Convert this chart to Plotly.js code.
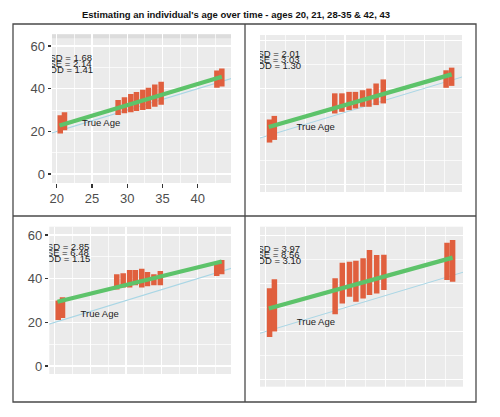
<!DOCTYPE html>
<html>
<head>
<meta charset="utf-8">
<script src="https://cdn.plot.ly/plotly-3.0.1.min.js"></script>
<style>html,body{margin:0;padding:0;background:#fff;}#chart{width:500px;height:417px;}</style>
</head>
<body>
<div id="chart"></div>
<script>
// ---- data ----
const chartTitle = "Estimating an individual's age over time - ages 20, 21, 28-35 & 42, 43";
const colX = [20.5, 21.1, 28.7, 29.6, 30.5, 31.3, 32.2, 33.0, 33.9, 34.8, 42.7, 43.4];

const low1  = [19.0, 20.5, 27.7, 28.5, 29.0, 29.5, 30.0, 30.5, 31.5, 32.5, 40.5, 41.0];
const high1 = [27.5, 29.0, 34.7, 36.0, 37.5, 38.5, 39.5, 40.5, 42.0, 43.3, 48.5, 49.5];
const low2  = [17.4, 18.5, 29.5, 30.2, 30.9, 31.6, 32.3, 32.3, 33.0, 33.7, 40.2, 41.0];
const high2 = [27.0, 28.5, 37.9, 37.9, 38.5, 38.5, 39.2, 39.9, 42.0, 43.7, 47.5, 48.6];
const low3  = [21.1, 22.0, 35.0, 36.0, 36.0, 37.0, 36.0, 36.5, 37.0, 37.0, 41.2, 42.0];
const high3 = [30.0, 31.5, 42.0, 42.5, 44.0, 44.0, 44.5, 43.0, 42.0, 43.5, 47.5, 48.6];
const low4  = [17.7, 20.0, 27.2, 31.7, 34.5, 32.4, 33.8, 35.2, 35.9, 37.3, 41.5, 40.8];
const high4 = [38.0, 41.8, 42.2, 48.7, 49.1, 49.5, 50.5, 54.0, 51.9, 52.0, 57.0, 58.2];

const fitX = [20.4, 43.4];
const fit1 = [22.8, 45.6];
const fit2 = [23.9, 45.8];
const fit3 = [29.4, 47.9];
const fit4 = [29.6, 50.8];

const trueAgeX = [18, 46];

const statNames = ["SD", "SE", "OD"];
const sdVals = [1.68, 2.01, 2.85, 3.97];
const seVals = [2.14, 3.03, 6.48, 8.56];
const odVals = [1.41, 1.30, 1.15, 3.10];

const yTicks = [0, 20, 40, 60];
const yMinor = [10, 30, 50];
const xTicks = [20, 25, 30, 35, 40];
const xMinor = [22.5, 27.5, 32.5, 37.5, 42.5];
const trueAgeLabel = "True Age";

// ---- layout helpers ----
const W = 500, H = 417;
const px = v => v / W;
const py = v => 1 - v / H;

const panels = [
  {low: low1, high: high1, fit: fit1, stats: 0, xd: [52, 231],  yd: [183, 34.3], xr: [19.33, 44.7], yr: [-4.2, 65.5], showY: true,  showX: true},
  {low: low2, high: high2, fit: fit2, stats: 1, xd: [260, 462], yd: [192, 35],   xr: [19.3, 44.7],  yr: [-3.2, 62.2], showY: false, showX: false},
  {low: low3, high: high3, fit: fit3, stats: 2, xd: [49.3, 231],yd: [374, 226.7],xr: [19.25, 44.7], yr: [-3.65, 63.8],showY: true,  showX: false},
  {low: low4, high: high4, fit: fit4, stats: 3, xd: [260, 463], yd: [386.7, 226.7],xr: [19.3, 44.7], yr: [-3.0, 63.7], showY: false, showX: false}
];

const tickFont = {family: "Liberation Sans, Arial, sans-serif", size: 13, color: "#4D4D4D"};
const traces = [];
const layout = {
  width: W, height: H,
  margin: {l: 0, r: 0, t: 0, b: 0},
  paper_bgcolor: "#ffffff",
  plot_bgcolor: "#EBEBEB",
  showlegend: false,
  shapes: [],
  annotations: []
};

panels.forEach((p, i) => {
  const n = i + 1;
  const xa = n === 1 ? "x" : "x" + n;
  const ya = n === 1 ? "y" : "y" + n;
  const xk = n === 1 ? "xaxis" : "xaxis" + n;
  const yk = n === 1 ? "yaxis" : "yaxis" + n;

  layout[xk] = {
    domain: [px(p.xd[0]), px(p.xd[1])],
    range: p.xr, anchor: ya,
    tickmode: "array", tickvals: xTicks,
    showticklabels: p.showX, ticks: p.showX ? "outside" : "",
    ticklen: 3.5, tickwidth: 1.2, tickcolor: "#333",
    tickfont: tickFont,
    showgrid: true, gridcolor: "#ffffff", gridwidth: 1.3,
    minor: {tickmode: "array", tickvals: xMinor, showgrid: true, gridcolor: "#ffffff", gridwidth: 0.7, ticks: ""},
    zeroline: false, showline: false, fixedrange: true
  };
  layout[yk] = {
    domain: [py(p.yd[0]), py(p.yd[1])],
    range: p.yr, anchor: xa,
    tickmode: "array", tickvals: yTicks,
    showticklabels: p.showY, ticks: p.showY ? "outside" : "",
    ticklen: 3.5, tickwidth: 1.2, tickcolor: "#333",
    tickfont: tickFont,
    showgrid: true, gridcolor: "#ffffff", gridwidth: 1.3,
    minor: {tickmode: "array", tickvals: yMinor, showgrid: true, gridcolor: "#ffffff", gridwidth: 0.7, ticks: ""},
    zeroline: false, showline: false, fixedrange: true
  };

  // true-age line (y = x)
  traces.push({
    type: "scatter", mode: "lines", x: trueAgeX, y: trueAgeX,
    xaxis: xa, yaxis: ya, line: {color: "#A9D6E5", width: 1.1},
    hoverinfo: "skip", cliponaxis: true
  });

  // estimate columns
  const cx = [], cy = [];
  colX.forEach((x, k) => {
    cx.push(x, x, null);
    cy.push(p.low[k], p.high[k], null);
  });
  traces.push({
    type: "scatter", mode: "lines", x: cx, y: cy,
    xaxis: xa, yaxis: ya, line: {color: "#E05F3E", width: 5.5},
    hoverinfo: "skip", connectgaps: false
  });

  // fitted line
  traces.push({
    type: "scatter", mode: "lines", x: fitX, y: p.fit,
    xaxis: xa, yaxis: ya, line: {color: "#5DC36A", width: 4.2},
    hoverinfo: "skip"
  });

  // "True Age" label
  traces.push({
    type: "scatter", mode: "text", x: [26.3], y: [23.6],
    text: [trueAgeLabel], textposition: "middle center",
    textfont: {family: "Liberation Sans, Arial, sans-serif", size: 9.5, color: "#222"},
    xaxis: xa, yaxis: ya, hoverinfo: "skip", cliponaxis: true
  });

  // stats text, clipped at the panel's left edge
  const vals = [sdVals[p.stats], seVals[p.stats], odVals[p.stats]];
  const unitPerPx = (p.yr[1] - p.yr[0]) / (p.yd[0] - p.yd[1]);
  const xUnitPerPx = (p.xr[1] - p.xr[0]) / (p.xd[1] - p.xd[0]);
  traces.push({
    type: "scatter", mode: "text",
    x: vals.map(() => p.xr[0] - 2.5 * xUnitPerPx),
    y: vals.map((v, k) => 54.2 - k * 6 * unitPerPx),
    text: vals.map((v, k) => statNames[k] + " = " + v.toFixed(2)),
    textposition: "middle right",
    textfont: {family: "Liberation Sans, Arial, sans-serif", size: 9.5, color: "#222"},
    xaxis: xa, yaxis: ya, hoverinfo: "skip", cliponaxis: true
  });
});

// faint strip at top of first panel
layout.shapes.push({type: "rect", xref: "paper", yref: "paper",
  x0: px(52), x1: px(231), y0: py(38.3), y1: py(34.3),
  fillcolor: "#DCDCDC", line: {width: 0}, layer: "below"});

// frame around the four panels
const frame = {color: "#4A4A4A", width: 1.3};
layout.shapes.push({type: "rect", xref: "paper", yref: "paper",
  x0: px(13), x1: px(476), y0: py(402), y1: py(24), line: frame});
layout.shapes.push({type: "line", xref: "paper", yref: "paper",
  x0: px(245), x1: px(245), y0: py(402), y1: py(24), line: frame});
layout.shapes.push({type: "line", xref: "paper", yref: "paper",
  x0: px(13), x1: px(476), y0: py(216), y1: py(216), line: frame});

layout.annotations.push({
  text: "<b>" + chartTitle + "</b>",
  xref: "paper", yref: "paper", x: px(236), y: py(14.5),
  xanchor: "center", yanchor: "middle", showarrow: false,
  font: {family: "Liberation Sans, Arial, sans-serif", size: 9.5, color: "#111"}
});

Plotly.newPlot("chart", traces, layout, {displayModeBar: false, staticPlot: true});
</script>
</body>
</html>
